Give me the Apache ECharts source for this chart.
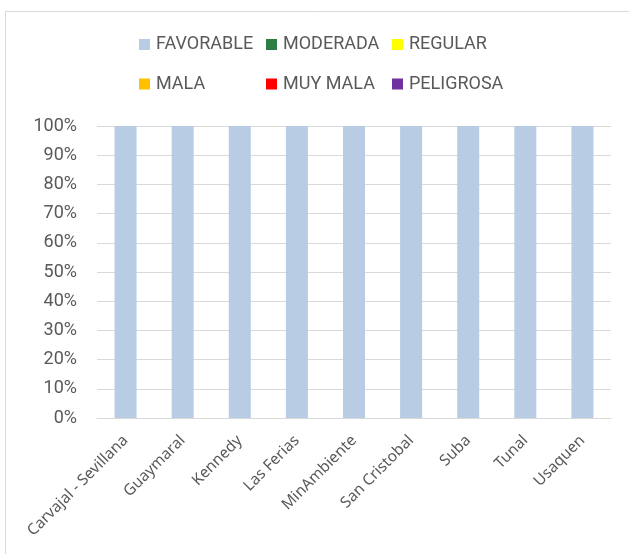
<!DOCTYPE html>
<html><head><meta charset="utf-8">
<script src="https://cdn.jsdelivr.net/npm/echarts@6/dist/echarts.min.js"></script>
<style>html,body{margin:0;padding:0;background:#fff}#c{width:629px;height:554px}</style>
</head><body><div id="c"></div>
<script>
const categories = ["Carvajal - Sevillana","Guaymaral","Kennedy","Las Ferias","MinAmbiente","San Cristobal","Suba","Tunal","Usaquen"];
const favorable = [100,100,100,100,100,100,100,100,100];
const moderada = [0,0,0,0,0,0,0,0,0];
const regular = [0,0,0,0,0,0,0,0,0];
const mala = [0,0,0,0,0,0,0,0,0];
const muyMala = [0,0,0,0,0,0,0,0,0];
const peligrosa = [0,0,0,0,0,0,0,0,0];
const seriesNames = ["FAVORABLE","MODERADA","REGULAR","MALA","MUY MALA","PELIGROSA"];
const seriesColors = ["#b8cce4","#2e7d45","#ffff00","#ffc000","#ff0000","#7030a0"];
const seriesData = [favorable,moderada,regular,mala,muyMala,peligrosa];

const legendPos = [[139,34.5],[266,34.5],[392,34.5],[139,74],[266,74],[392,74]];
const font = "Noto Sans";
const chart = echarts.init(document.getElementById('c'));
chart.setOption({
  animation:false,
  graphic:[{type:'rect',shape:{x:5.5,y:11.5,width:640,height:560},style:{fill:'none',stroke:'#d9d9d9',lineWidth:1},silent:true}],
  legend: seriesNames.map((n,i)=>({
    data:[n], left:legendPos[i][0], top:legendPos[i][1], itemWidth:11, itemHeight:11, itemGap:4, padding:0,
    icon:'rect', textStyle:{color:'#595959',fontSize:18,lineHeight:20,fontFamily:"Roboto",padding:[0,0,0,1]}
  })),
  grid:{left:97,right:18,top:126,bottom:136,containLabel:false},
  xAxis:{type:'category',data:categories,
    axisLine:{lineStyle:{color:'#d9d9d9',width:1}},axisTick:{show:false},
    axisLabel:{rotate:45,interval:0,color:'#595959',fontSize:15.5,fontFamily:font,margin:20}},
  yAxis:{type:'value',min:0,max:100,interval:10,
    axisLabel:{formatter:v=>v+'%',color:'#595959',fontSize:18,fontFamily:"Roboto",margin:20},
    splitLine:{lineStyle:{color:'#d9d9d9',width:1}},axisLine:{show:false},axisTick:{show:false}},
  series: seriesNames.map((n,i)=>({
    name:n,type:'bar',stack:'total',data:seriesData[i],barWidth:22,
    itemStyle:{color:seriesColors[i]}
  }))
});
</script></body></html>
